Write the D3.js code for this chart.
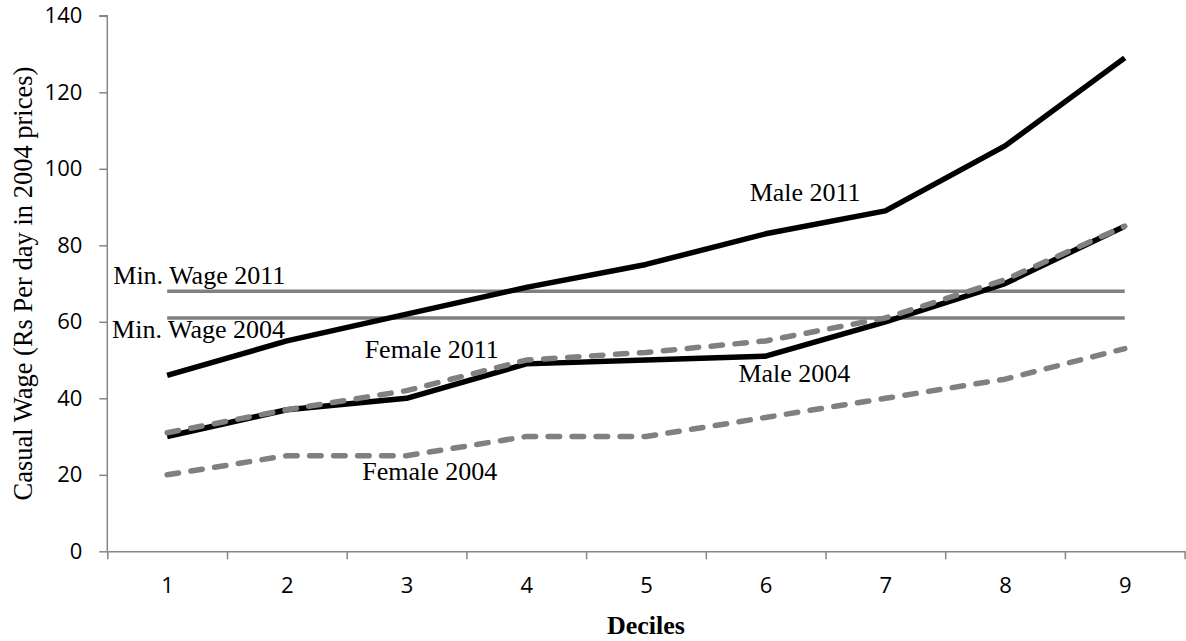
<!DOCTYPE html>
<html lang="en">
<head>
    <meta charset="UTF-8">
    <title>Casual Wage by Decile</title>
    <script src="https://d3js.org/d3.v7.min.js"></script>
    <style>
        body { margin: 0; background: white; }
        .axis path, .axis line { stroke: #868686; stroke-width: 1.5px; }
        .axis text { font-family: "Open Sans", sans-serif; font-size: 22px; fill: #000; }
        .note { font-family: "Liberation Serif", "Times New Roman", serif; font-size: 26px; fill: #000; }
    </style>
</head>
<body>
    <div id="chart"></div>
    <script>
        const width = 1186;
        const height = 641;

        // data
        const deciles = [1, 2, 3, 4, 5, 6, 7, 8, 9];
        const male2011 = [46, 55, 62, 69, 75, 83, 89, 106, 129];
        const male2004 = [30, 37, 40, 49, 50, 51, 60, 70, 85];
        const female2011 = [31, 37, 42, 50, 52, 55, 61, 71, 85];
        const female2004 = [20, 25, 25, 30, 30, 35, 40, 45, 53];
        const minWage2011 = 68;
        const minWage2004 = 61;
        const yTicks = [0, 20, 40, 60, 80, 100, 120, 140];

        // text labels placed in data units (decile, value)
        const notes = [
            { text: "Male 2011", d: 6.33, v: 91.7, anchor: "middle" },
            { text: "Male 2004", d: 6.24, v: 44.2, anchor: "middle" },
            { text: "Female 2011", d: 2.65, v: 50.5, anchor: "start" },
            { text: "Female 2004", d: 2.63, v: 18.6, anchor: "start" },
            { text: "Min. Wage 2011", d: 0.55, v: 69.8, anchor: "start" },
            { text: "Min. Wage 2004", d: 0.54, v: 55.7, anchor: "start" }
        ];

        const x = d3.scaleLinear().domain([0.5, 9.5]).range([107.3, 1184.6]);
        const y = d3.scaleLinear().domain([0, 140]).range([551.3, 15.8]);

        const svg = d3.select("#chart").append("svg")
            .attr("width", width)
            .attr("height", height);

        // y axis
        svg.append("g")
            .attr("class", "axis")
            .attr("transform", `translate(${x(0.5)},0)`)
            .call(d3.axisLeft(y).tickValues(yTicks).tickSize(8).tickPadding(17))
            .call(g => g.select(".domain").attr("d", `M-8,${y(140)}H0V${y(0)}`));

        // x axis: tick marks on band edges, labels in the middle
        const edges = d3.range(0.5, 10, 1);
        svg.append("g")
            .attr("class", "axis")
            .attr("transform", `translate(0,${y(0)})`)
            .call(d3.axisBottom(x).tickValues(edges).tickSize(8).tickSizeOuter(0).tickFormat(""));

        svg.append("g")
            .attr("class", "axis")
            .attr("transform", `translate(0,${y(0)})`)
            .call(d3.axisBottom(x).tickValues(deciles).tickSize(0).tickPadding(26).tickFormat(d3.format("d")))
            .call(g => g.select(".domain").remove());

        // axis titles
        svg.append("text")
            .attr("class", "note")
            .attr("x", (x(0.5) + x(9.5)) / 2)
            .attr("y", 634)
            .attr("text-anchor", "middle")
            .style("font-weight", "bold")
            .text("Deciles");

        svg.append("text")
            .attr("class", "note")
            .attr("transform", "rotate(-90)")
            .attr("x", -(y(0) + y(140)) / 2)
            .attr("y", 32)
            .attr("text-anchor", "middle")
            .style("font-size", "26.5px")
            .text("Casual Wage (Rs Per day in 2004 prices)");

        // minimum wage lines
        [minWage2011, minWage2004].forEach(w => {
            svg.append("line")
                .attr("x1", x(deciles[0]))
                .attr("x2", x(deciles[deciles.length - 1]))
                .attr("y1", y(w))
                .attr("y2", y(w))
                .attr("stroke", "#808080")
                .attr("stroke-width", 3.5);
        });

        const line = d3.line()
            .x((d, i) => x(deciles[i]))
            .y(d => y(d));

        const series = [
            { values: male2011, color: "#000", dash: null },
            { values: male2004, color: "#000", dash: null },
            { values: female2011, color: "#808080", dash: "11.5,12.5" },
            { values: female2004, color: "#808080", dash: "11.5,12.5" }
        ];

        series.forEach(s => {
            svg.append("path")
                .datum(s.values)
                .attr("d", line)
                .attr("fill", "none")
                .attr("stroke", s.color)
                .attr("stroke-width", 5.5)
                .attr("stroke-linejoin", "round")
                .attr("stroke-linecap", s.dash ? "round" : "butt")
                .attr("stroke-dasharray", s.dash);
        });

        // series labels
        svg.selectAll(".label")
            .data(notes)
            .enter().append("text")
            .attr("class", "note label")
            .attr("x", d => x(d.d))
            .attr("y", d => y(d.v))
            .attr("text-anchor", d => d.anchor)
            .text(d => d.text);
    </script>
</body>
</html>
